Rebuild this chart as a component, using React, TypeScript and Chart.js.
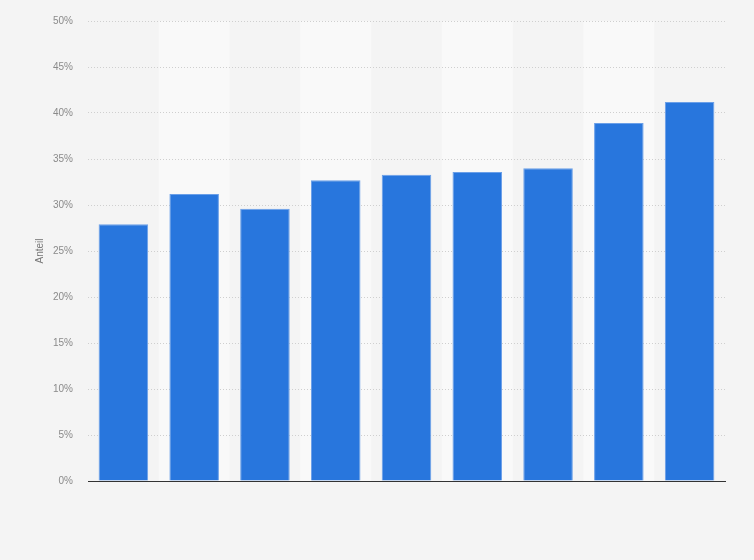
import React, { useEffect, useRef } from "react";
import { Chart, registerables } from "chart.js";

Chart.register(...registerables);

const categories = ["1", "2", "3", "4", "5", "6", "7", "8", "9"];
const shares = [27.9, 31.2, 29.6, 32.7, 33.3, 33.6, 34.0, 38.9, 41.2];
const yTicks = [0, 5, 10, 15, 20, 25, 30, 35, 40, 45, 50];

const bandPlugin = {
  id: "bands",
  beforeDraw(chart: any) {
    const { ctx, chartArea, scales } = chart;
    ctx.save();
    ctx.fillStyle = "#f4f4f4";
    ctx.fillRect(0, 0, chart.width, chart.height);
    const x = scales.x;
    const n = categories.length;
    const w = (chartArea.right - chartArea.left) / n;
    ctx.fillStyle = "#f9f9f9";
    for (let i = 1; i < n; i += 2) {
      const cx = x.getPixelForValue(i);
      ctx.fillRect(cx - w / 2, chartArea.top, w, chartArea.bottom - chartArea.top);
    }
    ctx.restore();
  },
};

export default function App() {
  const ref = useRef<HTMLCanvasElement>(null);
  useEffect(() => {
    const chart = new Chart(ref.current!, {
      type: "bar",
      data: {
        labels: categories,
        datasets: [
          {
            data: shares,
            backgroundColor: "#2876dd",
            borderColor: "#6a9fe8",
            borderWidth: 1,
            categoryPercentage: 1,
            barPercentage: 0.7,
          },
        ],
      },
      options: {
        animation: false,
        responsive: false,
        layout: { padding: { top: 21, right: 29, bottom: 79, left: 0 } },
        plugins: { legend: { display: false }, tooltip: { enabled: false } },
        scales: {
          x: {
            ticks: { display: false },
            grid: { display: false, drawTicks: false },
            border: { display: true, color: "#333333", width: 1 },
            afterFit: (s: any) => {
              s.height = 0;
            },
          },
          y: {
            min: 0,
            max: 50,
            afterBuildTicks: (s: any) => {
              s.ticks = yTicks.map((v) => ({ value: v }));
            },
            ticks: {
              padding: 15,
              color: "#8a8a8a",
              font: { family: "Arial, 'Liberation Sans', sans-serif", size: 10 },
              callback: (v: any) => v + "%",
            },
            grid: { color: "#cfcfcf", drawTicks: false, lineWidth: 1 },
            border: { display: false, dash: [1, 2] },
            title: {
              display: true,
              text: "Anteil",
              color: "#777777",
              font: { family: "Arial, 'Liberation Sans', sans-serif", size: 10 },
              padding: { top: 34, bottom: 0 },
            },
            afterFit: (s: any) => {
              s.width = 88;
            },
          },
        },
      },
      plugins: [bandPlugin],
    } as any);
    return () => chart.destroy();
  }, []);
  return (
    <div style={{ position: "fixed", left: 0, top: 0, width: 754, height: 560 }}>
      <canvas ref={ref} width={754} height={560} />
    </div>
  );
}
